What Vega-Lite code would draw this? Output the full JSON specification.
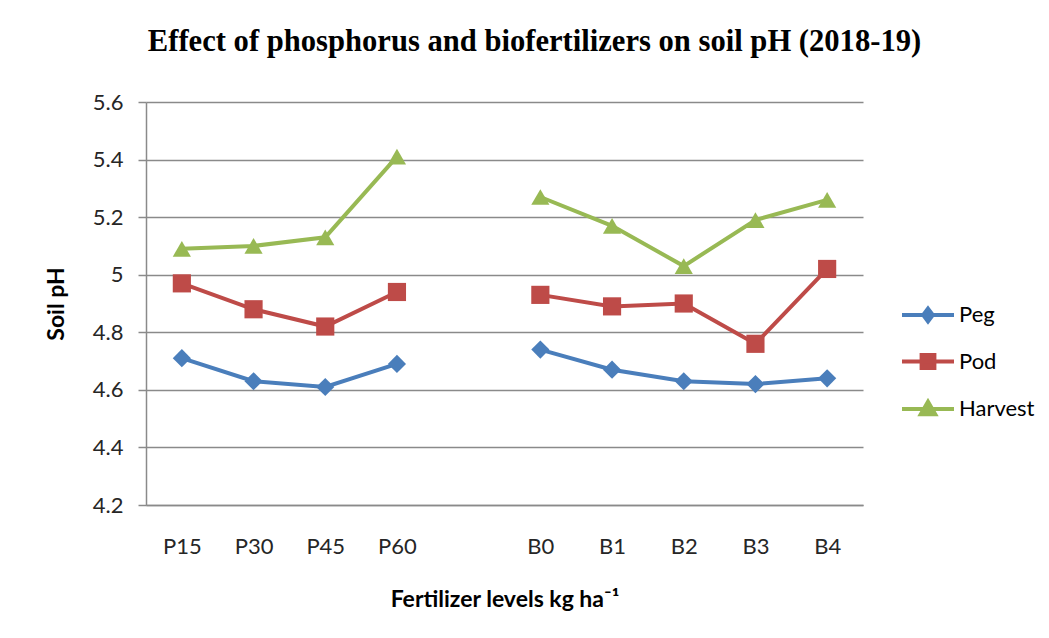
{
  "$schema": "https://vega.github.io/schema/vega-lite/v6.json",
  "autosize": "none",
  "width": 717,
  "height": 403,
  "padding": {"left": 146, "top": 102, "right": 186, "bottom": 133},
  "background": "white",
  "title": {
    "text": "Effect of phosphorus and biofertilizers on soil pH (2018-19)",
    "font": "Liberation Serif",
    "fontSize": 30.6,
    "fontWeight": "bold",
    "color": "#000000",
    "anchor": "middle",
    "dx": 30,
    "offset": 33
  },
  "config": {
    "view": {"stroke": null},
    "font": "Lato"
  },
  "data": {
    "values": [
      {"level": "P15", "grp": "P", "stage": "Peg", "ph": 4.71},
      {"level": "P30", "grp": "P", "stage": "Peg", "ph": 4.63},
      {"level": "P45", "grp": "P", "stage": "Peg", "ph": 4.61},
      {"level": "P60", "grp": "P", "stage": "Peg", "ph": 4.69},
      {"level": "B0", "grp": "B", "stage": "Peg", "ph": 4.74},
      {"level": "B1", "grp": "B", "stage": "Peg", "ph": 4.67},
      {"level": "B2", "grp": "B", "stage": "Peg", "ph": 4.63},
      {"level": "B3", "grp": "B", "stage": "Peg", "ph": 4.62},
      {"level": "B4", "grp": "B", "stage": "Peg", "ph": 4.64},
      {"level": "P15", "grp": "P", "stage": "Pod", "ph": 4.97},
      {"level": "P30", "grp": "P", "stage": "Pod", "ph": 4.88},
      {"level": "P45", "grp": "P", "stage": "Pod", "ph": 4.82},
      {"level": "P60", "grp": "P", "stage": "Pod", "ph": 4.94},
      {"level": "B0", "grp": "B", "stage": "Pod", "ph": 4.93},
      {"level": "B1", "grp": "B", "stage": "Pod", "ph": 4.89},
      {"level": "B2", "grp": "B", "stage": "Pod", "ph": 4.90},
      {"level": "B3", "grp": "B", "stage": "Pod", "ph": 4.76},
      {"level": "B4", "grp": "B", "stage": "Pod", "ph": 5.02},
      {"level": "P15", "grp": "P", "stage": "Harvest", "ph": 5.09},
      {"level": "P30", "grp": "P", "stage": "Harvest", "ph": 5.10},
      {"level": "P45", "grp": "P", "stage": "Harvest", "ph": 5.13},
      {"level": "P60", "grp": "P", "stage": "Harvest", "ph": 5.41},
      {"level": "B0", "grp": "B", "stage": "Harvest", "ph": 5.27},
      {"level": "B1", "grp": "B", "stage": "Harvest", "ph": 5.17},
      {"level": "B2", "grp": "B", "stage": "Harvest", "ph": 5.03},
      {"level": "B3", "grp": "B", "stage": "Harvest", "ph": 5.19},
      {"level": "B4", "grp": "B", "stage": "Harvest", "ph": 5.26}
    ]
  },
  "encoding": {
    "x": {
      "field": "level",
      "type": "nominal",
      "sort": null,
      "scale": {"type": "point", "padding": 0.5, "domain": ["P15", "P30", "P45", "P60", "gap", "B0", "B1", "B2", "B3", "B4"]},
      "axis": {
        "title": "Fertilizer levels kg ha⁻¹",
        "titleFont": "Lato",
        "titleFontSize": 23,
        "titleFontWeight": "bold",
        "titleColor": "#000000",
        "titlePadding": 31,
        "labelExpr": "datum.value == 'gap' ? '' : datum.value",
        "labelAngle": 0,
        "labelFont": "Lato",
        "labelFontSize": 22,
        "labelColor": "#262626",
        "labelPadding": 31,
        "ticks": false,
        "grid": false,
        "domainColor": "#8a8a8a",
        "domainWidth": 1.5
      }
    },
    "y": {
      "field": "ph",
      "type": "quantitative",
      "scale": {"domain": [4.2, 5.6], "nice": false, "zero": false},
      "axis": {
        "title": "Soil pH",
        "titleFont": "Lato",
        "titleFontSize": 23,
        "titleFontWeight": "bold",
        "titleColor": "#000000",
        "titlePadding": 24,
        "values": [4.2, 4.4, 4.6, 4.8, 5.0, 5.2, 5.4, 5.6],
        "format": ".1~f",
        "labelFont": "Lato",
        "labelFontSize": 22,
        "labelColor": "#262626",
        "labelPadding": 15,
        "tickSize": 8,
        "tickColor": "#8a8a8a",
        "tickWidth": 1.5,
        "gridColor": "#8a8a8a",
        "gridWidth": 1.5,
        "domainColor": "#8a8a8a",
        "domainWidth": 1.5
      }
    },
    "color": {
      "field": "stage",
      "type": "nominal",
      "scale": {"domain": ["Peg", "Pod", "Harvest"], "range": ["#4a7ebb", "#be4b48", "#98b954"]},
      "legend": {
        "title": null,
        "orient": "none",
        "legendX": 771,
        "legendY": 202,
        "labelFont": "Lato",
        "labelFontSize": 22,
        "labelColor": "#000000",
        "labelOffset": 20,
        "symbolSize": 256,
        "rowPadding": 16.5,
        "symbolOpacity": 1,
        "encode": {
          "symbols": {
            "update": {
              "shape": {"signal": "datum.value === 'Peg' ? 'M-3.25,0H3.25M0,-0.8L0.6,0L0,0.8L-0.6,0Z' : datum.value === 'Pod' ? 'M-3.25,0H3.25M-0.8,-0.8H0.8V0.8H-0.8Z' : 'M-3.25,0H3.25M0,-0.9L0.9,0.65L-0.9,0.65Z'"},
              "fill": {"signal": "scale('color', datum.value)"},
              "stroke": {"signal": "scale('color', datum.value)"},
              "strokeWidth": {"value": 4},
              "opacity": {"value": 1},
              "fillOpacity": {"value": 1}
            }
          }
        }
      }
    }
  },
  "layer": [
    {
      "mark": {"type": "line", "strokeWidth": 4},
      "encoding": {"detail": {"field": "grp"}}
    },
    {
      "transform": [{"filter": "datum.stage === 'Peg'"}],
      "mark": {"type": "point", "shape": "diamond", "filled": true, "size": 330, "opacity": 1}
    },
    {
      "transform": [{"filter": "datum.stage === 'Pod'"}],
      "mark": {"type": "point", "shape": "square", "filled": true, "size": 330, "opacity": 1}
    },
    {
      "transform": [{"filter": "datum.stage === 'Harvest'"}],
      "mark": {"type": "point", "shape": "triangle-up", "filled": true, "size": 330, "opacity": 1}
    }
  ]
}
